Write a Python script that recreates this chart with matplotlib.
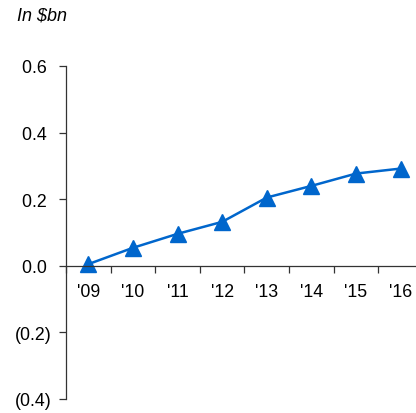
import numpy as np
import matplotlib.pyplot as plt

plt.rcParams['font.family'] = ['Liberation Sans', 'DejaVu Sans']

years = ["'09", "'10", "'11", "'12", "'13", "'14", "'15", "'16"]
values = [0.005, 0.054, 0.096, 0.132, 0.205, 0.24, 0.277, 0.292]
yticks = [-0.4, -0.2, 0.0, 0.2, 0.4, 0.6]
ylabels = ['(0.4)', '(0.2)', '0.0 ', '0.2 ', '0.4 ', '0.6 ']

fig = plt.figure(figsize=(4.16, 4.14), dpi=100)
ax = fig.add_axes([66/416, 14/414, 357/416, 333/414])

x = np.arange(len(years))
ax.plot(x, values, color='#0066CC', lw=1.8, marker='^', ms=11, clip_on=False)

ax.set_xlim(-0.5, len(years) - 0.5)
ax.set_ylim(-0.4, 0.6)
ax.set_yticks(yticks)
ax.set_yticklabels(ylabels)

ax.spines['top'].set_visible(False)
ax.spines['right'].set_visible(False)
ax.spines['bottom'].set_position(('data', 0))
for s in ['left', 'bottom']:
    ax.spines[s].set_color('#333333')
    ax.spines[s].set_linewidth(0.9)

ax.set_xticks(x)
ax.set_xticklabels(years)
ax.set_xticks(np.arange(len(years) + 1) - 0.5, minor=True)
ax.tick_params(axis='x', which='major', length=0, pad=12.5, labelsize=12.8)
ax.tick_params(axis='x', which='minor', length=5, direction='out', color='#333333', width=0.9)
ax.tick_params(axis='y', length=5, color='#333333', width=0.9, labelsize=12.8, pad=5.5)

fig.text(17/416, 1 - 16/414, 'In $bn', style='italic', fontsize=13, va='center', ha='left')

fig.savefig('out.png', dpi=100)
